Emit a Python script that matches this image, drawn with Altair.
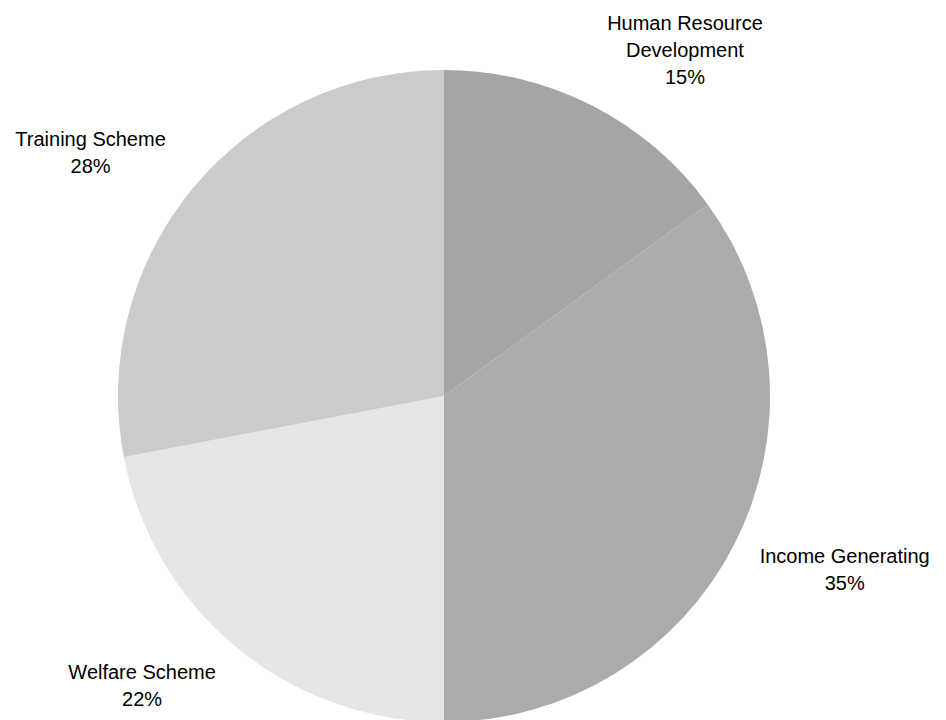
import altair as alt
import pandas as pd

categories = ["Human Resource Development", "Income Generating", "Welfare Scheme", "Training Scheme"]
shares = [15, 35, 22, 28]
label_names = ["Human Resource\nDevelopment", "Income Generating", "Welfare Scheme", "Training Scheme"]

colors = ["#a5a5a5", "#ababab", "#e6e6e6", "#cbcbcb"]
label_offsets = {
    "Human Resource Development": (48, 7),
    "Income Generating": (22, -32),
    "Welfare Scheme": (-31, -50),
    "Training Scheme": (-26, 15),
}

df = pd.DataFrame({
    "category": categories,
    "share": shares,
    "order": list(range(len(categories))),
    "label": [f"{n}\n{v}%" for n, v in zip(label_names, shares)],
})

total = sum(shares)

pie = alt.Chart(df).mark_arc(outerRadius=326, stroke=None).encode(
    theta=alt.Theta("share:Q", stack=True),
    order=alt.Order("order:Q"),
    color=alt.Color("category:N", scale=alt.Scale(domain=categories, range=colors), legend=None),
)

text_base = alt.Chart(df).transform_window(
    cum="sum(share)", sort=[alt.SortField("order")]
).transform_calculate(
    mid="datum.cum - datum.share / 2"
)

layers = [pie]
for cat in categories:
    dx, dy = label_offsets[cat]
    layers.append(
        text_base.transform_filter(alt.datum.category == cat).mark_text(
            radius=425, fontSize=20, font="Liberation Sans", color="#000000",
            align="center", baseline="middle", lineBreak="\n", lineHeight=27,
            dx=dx, dy=dy,
        ).encode(
            theta=alt.Theta("mid:Q", stack=False, scale=alt.Scale(domain=[0, total])),
            text="label:N",
        )
    )

chart = alt.layer(*layers).properties(
    width=872, height=776, autosize=alt.AutoSizeParams(type="none"),
    padding={"left": 0, "top": 0, "right": 58, "bottom": 0},
).configure_view(stroke=None).configure(background="white")

chart.save("out.html", embed_options={"renderer": "svg", "actions": False})
